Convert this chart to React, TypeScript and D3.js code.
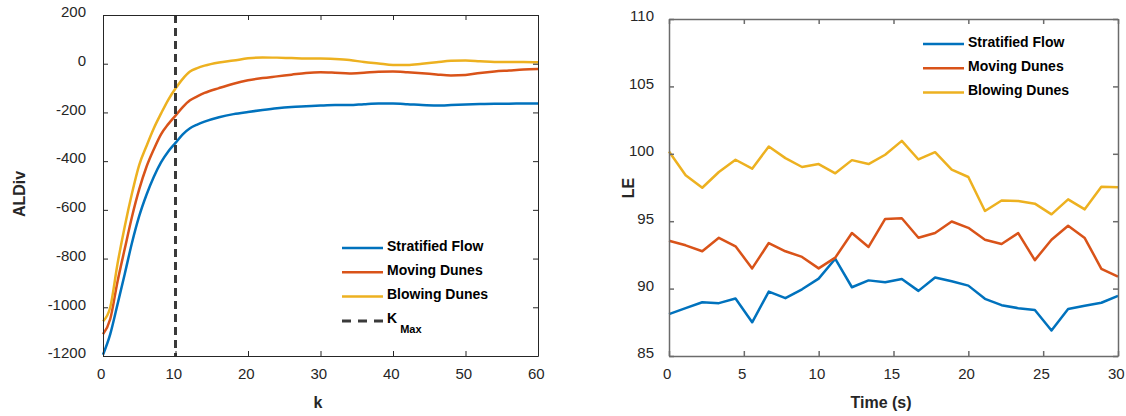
import React, { useRef, useEffect } from 'react';
import * as d3 from 'd3';

// Left panel: ALDiv vs k
const kValues = [0, 1, 2, 3, 4, 5, 6, 7, 8, 9, 10, 11, 12, 13, 14, 16, 18, 20, 22, 24, 26, 28, 30, 32, 34, 36, 38, 40, 42, 44, 46, 48, 50, 52, 54, 56, 58, 60];
const aldivStratified = [-1195, -1110, -988, -863, -735, -625, -538, -465, -405, -360, -325, -290, -265, -250, -238, -220, -207, -198, -190, -183, -178, -175, -172, -170, -170, -166, -163, -163, -166, -170, -172, -170, -167, -165, -164, -164, -163, -163];
const aldivMoving = [-1111, -1048, -895, -760, -628, -515, -423, -352, -290, -248, -213, -178, -150, -134, -120, -100, -82, -68, -59, -52, -45, -38, -35, -37, -40, -37, -33, -32, -35, -39, -44, -48, -46, -38, -32, -28, -24, -22];
const aldivBlowing = [-1058, -1000, -822, -668, -532, -415, -338, -266, -205, -148, -102, -62, -32, -18, -8, 5, 13, 22, 26, 25, 23, 21, 21, 19, 15, 7, 1, -5, -5, 0, 6, 12, 13, 10, 7, 7, 7, 6];
const kMax = 10;
const kTicks = [0, 10, 20, 30, 40, 50, 60];
const aldivTicks = [200, 0, -200, -400, -600, -800, -1000, -1200];

// Right panel: LE vs time
const timeValues = [0, 1.111, 2.222, 3.333, 4.444, 5.556, 6.667, 7.778, 8.889, 10, 11.111, 12.222, 13.333, 14.444, 15.556, 16.667, 17.778, 18.889, 20, 21.111, 22.222, 23.333, 24.444, 25.556, 26.667, 27.778, 28.889, 30];
const leStratified = [88.11, 88.55, 88.99, 88.92, 89.26, 87.5, 89.78, 89.29, 89.95, 90.74, 92.21, 90.1, 90.61, 90.47, 90.71, 89.83, 90.83, 90.54, 90.22, 89.24, 88.77, 88.55, 88.41, 86.89, 88.48, 88.73, 88.95, 89.46];
const leMoving = [93.55, 93.21, 92.77, 93.77, 93.14, 91.5, 93.38, 92.77, 92.35, 91.5, 92.3, 94.12, 93.09, 95.17, 95.22, 93.77, 94.12, 94.98, 94.51, 93.63, 93.31, 94.12, 92.11, 93.63, 94.66, 93.75, 91.47, 90.88];
const leBlowing = [100.17, 98.41, 97.48, 98.65, 99.56, 98.9, 100.54, 99.68, 99.02, 99.24, 98.55, 99.53, 99.24, 99.93, 100.96, 99.58, 100.12, 98.82, 98.28, 95.76, 96.54, 96.5, 96.3, 95.51, 96.62, 95.88, 97.55, 97.52];
const timeTicks = [0, 5, 10, 15, 20, 25, 30];
const leTicks = [85, 90, 95, 100, 105, 110];

const seriesNames = ['Stratified Flow', 'Moving Dunes', 'Blowing Dunes'];
const colors = ['#0072BD', '#D95319', '#EDB120'];

const FONT = '"Liberation Sans", Arial, Helvetica, sans-serif';

const App = () => {
  const svgRef = useRef<SVGSVGElement | null>(null);

  useEffect(() => {
    const svg = d3.select(svgRef.current);
    svg.selectAll('*').remove();

    const drawFrame = (g, x, y, xTickVals, yTickVals, axisColor, axisWidth, yPad) => {
      const [x0, x1] = x.range();
      const [y0, y1] = y.range();
      const fmt = (d) => String(d);

      const styleAxis = (sel) => {
        sel.selectAll('.domain').attr('stroke', axisColor).attr('stroke-width', axisWidth).attr('fill', 'none');
        sel.selectAll('.tick line').attr('stroke', axisColor).attr('stroke-width', axisWidth);
        sel.selectAll('text')
          .attr('fill', '#262626')
          .attr('font-size', 15)
          .attr('font-family', FONT);
      };

      g.append('g')
        .attr('transform', `translate(0,${y0})`)
        .call(d3.axisBottom(x).tickValues(xTickVals).tickFormat(fmt).tickSize(-5).tickSizeOuter(0).tickPadding(12))
        .call(styleAxis)
        .selectAll('text').attr('dx', '-0.15em');

      g.append('g')
        .attr('transform', `translate(0,${y1})`)
        .call(d3.axisTop(x).tickValues(xTickVals).tickSize(-5).tickSizeOuter(0).tickFormat(() => ''))
        .call(styleAxis);

      g.append('g')
        .attr('transform', `translate(${x0},0)`)
        .call(d3.axisLeft(y).tickValues(yTickVals).tickFormat(fmt).tickSize(-5).tickSizeOuter(0).tickPadding(yPad))
        .call(styleAxis)
        .selectAll('text').attr('dy', '0.12em');

      g.append('g')
        .attr('transform', `translate(${x1},0)`)
        .call(d3.axisRight(y).tickValues(yTickVals).tickSize(-5).tickSizeOuter(0).tickFormat(() => ''))
        .call(styleAxis);
    };

    const drawLegend = (g, x, y, rowGap) => {
      seriesNames.forEach((name, i) => {
        const yy = y + i * rowGap;
        g.append('line')
          .attr('x1', x).attr('x2', x + 41)
          .attr('y1', yy).attr('y2', yy)
          .attr('stroke', colors[i]).attr('stroke-width', 2.5);
        g.append('text')
          .attr('x', x + 45).attr('y', yy - 2.5)
          .attr('dominant-baseline', 'central')
          .attr('font-family', FONT).attr('font-size', 14).attr('font-weight', 'bold')
          .attr('fill', '#000')
          .text(name);
      });
    };

    // ---------- Left panel ----------
    const left = svg.append('g');
    const xK = d3.scaleLinear().domain([0, 60]).range([103, 538]);
    const yA = d3.scaleLinear().domain([-1200, 200]).range([356, 15]);

    const lineK = (vals) => d3.line<number>()
      .x((_, i) => xK(kValues[i]))
      .y((d) => yA(d))
      .curve(d3.curveMonotoneX)(vals);

    [aldivStratified, aldivMoving, aldivBlowing].forEach((vals, i) => {
      left.append('path')
        .attr('d', lineK(vals))
        .attr('fill', 'none')
        .attr('stroke', colors[i])
        .attr('stroke-width', 2.5);
    });

    left.append('line')
      .attr('x1', xK(kMax)).attr('x2', xK(kMax))
      .attr('y1', yA(200)).attr('y2', yA(-1200))
      .attr('stroke', '#3a3a3a').attr('stroke-width', 3)
      .attr('stroke-dasharray', '8,5');

    drawFrame(left, xK, yA, kTicks, aldivTicks, '#262626', 1, 17);

    drawLegend(left, 342, 248, 24.3);
    left.append('line')
      .attr('x1', 342).attr('x2', 383)
      .attr('y1', 321).attr('y2', 321)
      .attr('stroke', '#3a3a3a').attr('stroke-width', 3)
      .attr('stroke-dasharray', '9,7');
    const kLabel = left.append('text')
      .attr('x', 387).attr('y', 323)
      .attr('font-family', FONT).attr('font-weight', 'bold').attr('fill', '#000');
    kLabel.append('tspan').attr('font-size', 14).text('K');
    kLabel.append('tspan').attr('font-size', 11).attr('dx', 3).attr('dy', 10).text('Max');

    left.append('text')
      .attr('x', 318).attr('y', 402)
      .attr('text-anchor', 'middle').attr('dominant-baseline', 'central')
      .attr('font-family', FONT).attr('font-size', 16).attr('font-weight', 'bold')
      .attr('fill', '#262626')
      .text('k');

    left.append('text')
      .attr('transform', 'translate(19,194) rotate(-90)')
      .attr('text-anchor', 'middle').attr('dominant-baseline', 'central')
      .attr('font-family', FONT).attr('font-size', 16).attr('font-weight', 'bold')
      .attr('fill', '#262626')
      .text('ALDiv');

    // ---------- Right panel ----------
    const right = svg.append('g');
    const xT = d3.scaleLinear().domain([0, 30]).range([669, 1118]);
    const yL = d3.scaleLinear().domain([85, 110]).range([356, 19]);

    const lineT = (vals) => d3.line<number>()
      .x((_, i) => xT(timeValues[i]))
      .y((d) => yL(d))(vals);

    [leStratified, leMoving, leBlowing].forEach((vals, i) => {
      right.append('path')
        .attr('d', lineT(vals))
        .attr('fill', 'none')
        .attr('stroke', colors[i])
        .attr('stroke-width', 2.5)
        .attr('stroke-linejoin', 'round');
    });

    drawFrame(right, xT, yL, timeTicks, leTicks, '#6b6b6b', 1.5, 15);

    drawLegend(right, 923, 44, 24.2);

    right.append('text')
      .attr('x', 881).attr('y', 402)
      .attr('text-anchor', 'middle').attr('dominant-baseline', 'central')
      .attr('font-family', FONT).attr('font-size', 16).attr('font-weight', 'bold')
      .attr('fill', '#262626')
      .text('Time (s)');

    right.append('text')
      .attr('transform', 'translate(628,188) rotate(-90)')
      .attr('text-anchor', 'middle').attr('dominant-baseline', 'central')
      .attr('font-family', FONT).attr('font-size', 16).attr('font-weight', 'bold')
      .attr('fill', '#262626')
      .text('LE');
  }, []);

  return (
    <svg
      ref={svgRef}
      width={1126}
      height={416}
      style={{ position: 'absolute', left: 0, top: 0, background: '#fff' }}
    />
  );
};

export default App;
